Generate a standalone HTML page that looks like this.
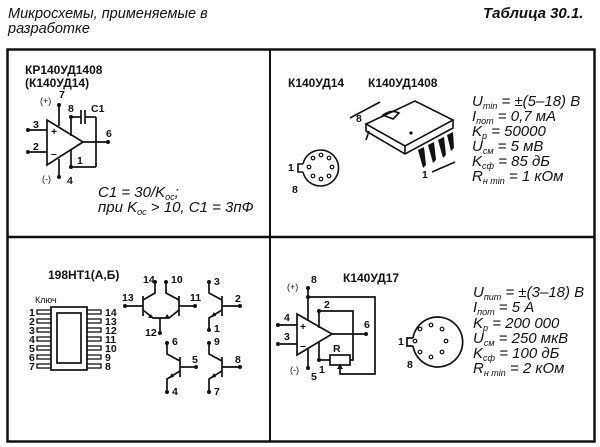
<!DOCTYPE html>
<html><head><meta charset="utf-8"><style>
html,body{margin:0;padding:0;background:#fff;}
svg{display:block;}
text{font-family:"Liberation Sans","DejaVu Sans",sans-serif;fill:#111;}
.b{font-weight:bold;font-size:12px;}
.p{font-style:italic;font-size:15px;}
.s{font-size:10.5px;font-weight:bold;}
</style></head><body>
<svg width="600" height="447" viewBox="0 0 600 447" xmlns="http://www.w3.org/2000/svg">
<text x="8" y="18" style="font-style:italic;font-size:14.5px">Микросхемы, применяемые в</text>
<text x="8" y="33" style="font-style:italic;font-size:14.5px">разработке</text>
<text x="483" y="18" style="font-style:italic;font-weight:bold;font-size:15px">Таблица  30.1.</text>

<g stroke="#111" fill="none">
<rect x="7.5" y="49.5" width="587" height="392" stroke-width="2.5"/>
<line x1="7" y1="237" x2="595" y2="237" stroke-width="2.5"/>
<line x1="270" y1="49" x2="270" y2="442" stroke-width="2"/>
</g>

<!-- Panel 1 -->
<text class="b" x="25" y="74">КР140УД1408</text>
<text class="b" x="25" y="87">(К140УД14)</text>
<g stroke="#111" stroke-width="1.7" fill="none">
<polygon points="47,120 47,165 83,142"/>
<line x1="28" y1="130" x2="47" y2="130"/>
<line x1="28" y1="152" x2="47" y2="152"/>
<line x1="59" y1="105" x2="59" y2="126"/>
<line x1="59" y1="159" x2="59" y2="177"/>
<line x1="71" y1="117" x2="71" y2="136"/>
<line x1="71" y1="149" x2="71" y2="167"/>
<line x1="71" y1="117" x2="81" y2="117"/>
<line x1="81" y1="110" x2="81" y2="124"/>
<line x1="85" y1="110" x2="85" y2="124"/>
<line x1="85" y1="117" x2="96" y2="117"/>
<line x1="96" y1="117" x2="96" y2="167"/>
<line x1="96" y1="167" x2="71" y2="167"/>
<line x1="83" y1="142" x2="108" y2="142"/>
</g>
<g fill="#111">
<circle cx="28" cy="130" r="2"/><circle cx="28" cy="152" r="2"/>
<circle cx="59" cy="105" r="2"/><circle cx="59" cy="177" r="2"/>
<circle cx="71" cy="117" r="2"/><circle cx="71" cy="167" r="2"/>
<circle cx="108" cy="142" r="2"/>
</g>
<text class="s" x="33" y="128">3</text><text class="s" x="33" y="150">2</text>
<text class="s" x="51" y="135">+</text><text class="s" x="51" y="157">–</text>
<text class="s" x="59" y="98">7</text><text x="40" y="104" style="font-size:9px">(+)</text>
<text class="s" x="67" y="184">4</text><text x="42" y="182" style="font-size:9px">(-)</text>
<text class="s" x="68" y="112">8</text><text class="s" x="91" y="112">C1</text>
<text class="s" x="77" y="164">1</text><text class="s" x="106" y="137">6</text>
<text class="p" x="98" y="197">C1 = 30/K<tspan font-size="9" dy="3">ос</tspan><tspan dy="-3">;</tspan></text>
<text class="p" x="98" y="212">при K<tspan font-size="9" dy="3">ос</tspan><tspan dy="-3"> &gt; 10, C1 = 3пФ</tspan></text>

<!-- Panel 2 -->
<text class="b" x="288" y="87">К140УД14</text>
<text class="b" x="368" y="87">К140УД1408</text>
<text class="p" x="472" y="106">U<tspan font-size="9" dy="3">min</tspan><tspan dy="-3"> = ±(5–18) В</tspan></text>
<text class="p" x="472" y="121">I<tspan font-size="9" dy="3">пот</tspan><tspan dy="-3"> = 0,7 мА</tspan></text>
<text class="p" x="472" y="136">K<tspan font-size="9" dy="3">р</tspan><tspan dy="-3"> = 50000</tspan></text>
<text class="p" x="472" y="151">U<tspan font-size="9" dy="3">см</tspan><tspan dy="-3"> = 5 мВ</tspan></text>
<text class="p" x="472" y="166">K<tspan font-size="9" dy="3">сф</tspan><tspan dy="-3"> = 85 дБ</tspan></text>
<text class="p" x="472" y="181">R<tspan font-size="9" dy="3">н min</tspan><tspan dy="-3"> = 1 кОм</tspan></text>
<g stroke="#111" stroke-width="1.6" fill="none">
<path d="M303,164 A18,18 0 1,1 303,172"/>
<path d="M303,164 L298,164 L298,172 L303,172"/>
<polygon points="366,124 415,101 453,120 405,146"/>
<polyline points="366,124 366,131 405,154 453,128 453,120"/>
<line x1="405" y1="146" x2="405" y2="154"/>
<line x1="350" y1="118" x2="380" y2="102"/>
<line x1="432" y1="172" x2="455" y2="162"/>
<path d="M383,115 q8,-6 16,-2 l-6,6 z"/>
<line x1="369" y1="131" x2="366" y2="140"/>
</g>
<g fill="#111">
<circle cx="411" cy="133" r="1.6"/>
<path d="M418,150 l6,-3 l2,18 l-3,3 z"/><path d="M428,145 l6,-3 l2,18 l-3,3 z"/>
<path d="M438,140 l6,-3 l2,18 l-3,3 z"/><path d="M447,135 l6,-3 l1,16 l-3,3 z"/>
</g>
<g fill="none" stroke="#111" stroke-width="1.2">
<circle cx="313" cy="158" r="1.8"/><circle cx="321" cy="155" r="1.8"/>
<circle cx="329" cy="158" r="1.8"/><circle cx="332" cy="167" r="1.8"/>
<circle cx="329" cy="176" r="1.8"/><circle cx="321" cy="179" r="1.8"/>
<circle cx="313" cy="176" r="1.8"/><circle cx="309" cy="167" r="1.8"/>
</g>
<text class="s" x="288" y="171">1</text><text class="s" x="292" y="193">8</text>
<text class="s" x="356" y="122">8</text><text class="s" x="422" y="178">1</text>

<!-- Panel 3 -->
<text class="b" x="48" y="279">198НТ1(А,Б)</text>
<text x="35" y="303" style="font-size:9px">Ключ</text>
<g stroke="#111" stroke-width="1.7" fill="none">
<rect x="51" y="307" width="36" height="63"/>
<rect x="57" y="313" width="24" height="50"/>
</g>
<g stroke="#111" stroke-width="1.3" fill="none">
<rect x="37" y="310" width="14" height="4"/><rect x="37" y="319" width="14" height="4"/><rect x="37" y="328" width="14" height="4"/>
<rect x="37" y="337" width="14" height="4"/><rect x="37" y="346" width="14" height="4"/><rect x="37" y="355" width="14" height="4"/><rect x="37" y="364" width="14" height="4"/>
<rect x="87" y="310" width="14" height="4"/><rect x="87" y="319" width="14" height="4"/><rect x="87" y="328" width="14" height="4"/>
<rect x="87" y="337" width="14" height="4"/><rect x="87" y="346" width="14" height="4"/><rect x="87" y="355" width="14" height="4"/><rect x="87" y="364" width="14" height="4"/>
</g>
<text class="s" x="29" y="316">1</text><text class="s" x="29" y="325">2</text><text class="s" x="29" y="334">3</text><text class="s" x="29" y="343">4</text><text class="s" x="29" y="352">5</text><text class="s" x="29" y="361">6</text><text class="s" x="29" y="370">7</text>
<text class="s" x="105" y="316">14</text><text class="s" x="105" y="325">13</text><text class="s" x="105" y="334">12</text><text class="s" x="105" y="343">11</text><text class="s" x="105" y="352">10</text><text class="s" x="105" y="361">9</text><text class="s" x="105" y="370">8</text>
<g stroke="#111" stroke-width="1.7" fill="none">
<polyline points="155,282 155,293 143,300"/><line x1="143" y1="296" x2="143" y2="316"/><line x1="125" y1="306" x2="143" y2="306"/>
<polyline points="143,310 153,318 160,318 160,333"/>
<polyline points="166,282 166,293 179,300"/><line x1="179" y1="296" x2="179" y2="316"/><line x1="179" y1="306" x2="195" y2="306"/>
<polyline points="179,310 169,318 160,318"/>
<polyline points="209,282 209,293 222,300"/><line x1="222" y1="296" x2="222" y2="316"/><line x1="222" y1="306" x2="240" y2="306"/><polyline points="222,310 209,318 209,330"/>
<polyline points="167,343 167,354 180,361"/><line x1="180" y1="357" x2="180" y2="377"/><line x1="180" y1="367" x2="196" y2="367"/><polyline points="180,371 167,379 167,392"/>
<polyline points="209,343 209,354 222,361"/><line x1="222" y1="357" x2="222" y2="377"/><line x1="222" y1="367" x2="240" y2="367"/><polyline points="222,371 209,379 209,392"/>
</g>
<g fill="#111">
<circle cx="155" cy="282" r="2"/><circle cx="166" cy="282" r="2"/><circle cx="125" cy="306" r="2"/><circle cx="195" cy="306" r="2"/><circle cx="160" cy="333" r="2"/>
<circle cx="209" cy="282" r="2"/><circle cx="240" cy="306" r="2"/><circle cx="209" cy="330" r="2"/>
<circle cx="167" cy="343" r="2"/><circle cx="196" cy="367" r="2"/><circle cx="167" cy="392" r="2"/>
<circle cx="209" cy="343" r="2"/><circle cx="240" cy="367" r="2"/><circle cx="209" cy="392" r="2"/>
<path d="M148,318 l5,0 l-2,-4z"/><path d="M170,318 l-5,0 l2,-4z"/>
<path d="M211,317 l5,-1 l-2,-4z"/><path d="M169,378 l5,-1 l-2,-4z"/><path d="M211,378 l5,-1 l-2,-4z"/>
</g>
<text class="s" x="143" y="283">14</text><text class="s" x="171" y="283">10</text>
<text class="s" x="122" y="301">13</text><text class="s" x="190" y="301">11</text><text class="s" x="145" y="336">12</text>
<text class="s" x="214" y="285">3</text><text class="s" x="235" y="302">2</text><text class="s" x="214" y="332">1</text>
<text class="s" x="172" y="345">6</text><text class="s" x="192" y="363">5</text><text class="s" x="172" y="395">4</text>
<text class="s" x="214" y="345">9</text><text class="s" x="235" y="363">8</text><text class="s" x="214" y="395">7</text>

<!-- Panel 4 -->
<text class="b" x="343" y="282">К140УД17</text>
<g stroke="#111" stroke-width="1.7" fill="none">
<polygon points="297,314 297,355 332,334"/>
<line x1="278" y1="325" x2="297" y2="325"/><line x1="278" y1="344" x2="297" y2="344"/>
<line x1="308" y1="288" x2="308" y2="320"/><line x1="308" y1="349" x2="308" y2="368"/>
<polyline points="308,297 375,297 375,374 340,374 340,364"/>
<polyline points="319,311 353,311 353,360 350,360"/>
<line x1="319" y1="311" x2="319" y2="328"/><line x1="319" y1="341" x2="319" y2="360"/>
<line x1="319" y1="360" x2="330" y2="360"/>
<rect x="330" y="355" width="20" height="10"/>
<line x1="332" y1="334" x2="366" y2="334"/>
<path d="M413,338 A25,25 0 1,1 413,346"/>
<path d="M413,338 L407,338 L407,346 L413,346"/>
</g>
<g fill="#111">
<path d="M340,364 l-3,5 l6,0z"/>
<circle cx="278" cy="325" r="2"/><circle cx="278" cy="344" r="2"/><circle cx="308" cy="288" r="2"/><circle cx="308" cy="297" r="2"/><circle cx="308" cy="368" r="2"/>
<circle cx="319" cy="311" r="2"/><circle cx="319" cy="360" r="2"/><circle cx="366" cy="334" r="2"/>
</g>
<g fill="none" stroke="#111" stroke-width="1.2">
<circle cx="420" cy="329" r="1.8"/><circle cx="431" cy="325" r="1.8"/><circle cx="442" cy="329" r="1.8"/><circle cx="446" cy="341" r="1.8"/>
<circle cx="442" cy="352" r="1.8"/><circle cx="431" cy="357" r="1.8"/><circle cx="420" cy="352" r="1.8"/><circle cx="415" cy="341" r="1.8"/>
</g>
<text class="s" x="284" y="321">4</text><text class="s" x="284" y="340">3</text>
<text class="s" x="300" y="330">+</text><text class="s" x="300" y="349">–</text>
<text x="287" y="290" style="font-size:9px">(+)</text><text class="s" x="311" y="283">8</text>
<text x="290" y="373" style="font-size:9px">(-)</text><text class="s" x="311" y="380">5</text>
<text class="s" x="324" y="308">2</text><text class="s" x="319" y="373">1</text><text class="s" x="333" y="352">R</text>
<text class="s" x="364" y="328">6</text>
<text class="s" x="398" y="345">1</text><text class="s" x="407" y="368">8</text>
<text class="p" x="473" y="297">U<tspan font-size="9" dy="3">пит</tspan><tspan dy="-3"> = ±(3–18) В</tspan></text>
<text class="p" x="473" y="312">I<tspan font-size="9" dy="3">пот</tspan><tspan dy="-3"> = 5 А</tspan></text>
<text class="p" x="473" y="328">K<tspan font-size="9" dy="3">р</tspan><tspan dy="-3"> = 200 000</tspan></text>
<text class="p" x="473" y="343">U<tspan font-size="9" dy="3">см</tspan><tspan dy="-3"> = 250 мкВ</tspan></text>
<text class="p" x="473" y="358">K<tspan font-size="9" dy="3">сф</tspan><tspan dy="-3"> = 100 дБ</tspan></text>
<text class="p" x="473" y="373">R<tspan font-size="9" dy="3">н min</tspan><tspan dy="-3"> = 2 кОм</tspan></text>
</svg>
</body></html>
